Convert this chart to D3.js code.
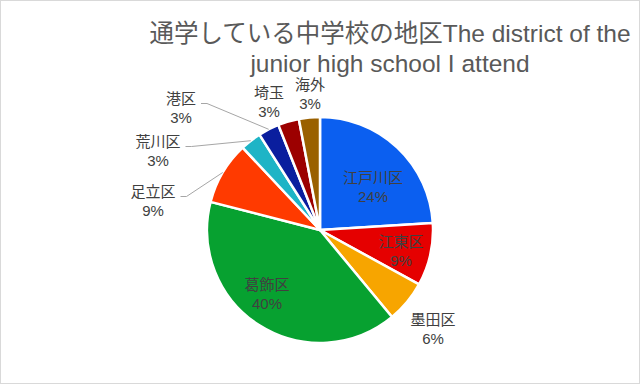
<!DOCTYPE html>
<html>
<head>
<meta charset="utf-8">
<script src="https://cdn.jsdelivr.net/npm/d3@7"></script>
<style>
  html, body { margin: 0; padding: 0; background: #fff; }
  svg { display: block; }
</style>
</head>
<body>
<script>
const width = 640;
const height = 384;

// data
const districts = ['江戸川区', '江東区', '墨田区', '葛飾区', '足立区', '荒川区', '港区', '埼玉', '海外'];
const shares = [24, 9, 6, 40, 9, 3, 3, 3, 3];
const colors = ['#0b5ff0', '#e50000', '#f7a500', '#07a130', '#ff3a00', '#1eb4c6', '#0a1e9e', '#9c0000', '#9a6000'];
const titleLines = ['通学している中学校の地区The district of the', 'junior high school I attend'];

// where each label block sits, relative to the pie centre
const labelAt = [[53, -43], [81, 21], [113, 99], [-53, 64], [-167, -29], [-162, -79], [-139, -122], [-51, -128], [-10, -136]];
const withLeader = [false, false, false, false, true, true, true, false, false];

const font = '"Liberation Sans", Arial, "Noto Sans CJK JP", sans-serif';
const cx = 320, cy = 230, r = 113;

const svg = d3.select('body')
  .append('svg')
  .attr('width', width)
  .attr('height', height);

svg.append('rect')
  .attr('x', 0.5).attr('y', 0.5)
  .attr('width', width - 1).attr('height', height - 1)
  .attr('fill', '#fff')
  .attr('stroke', '#d9d9d9');

// title
svg.append('g')
  .selectAll('text')
  .data(titleLines)
  .join('text')
  .attr('x', 390)
  .attr('y', (d, i) => 42 + i * 30)
  .attr('text-anchor', 'middle')
  .attr('font-family', font)
  .attr('font-size', 24.5)
  .attr('fill', '#595959')
  .text(d => d);

const pie = d3.pie().sort(null).value(d => d);
const arcs = pie(shares);
const arc = d3.arc().innerRadius(0).outerRadius(r);

const g = svg.append('g').attr('transform', `translate(${cx},${cy})`);

g.selectAll('path')
  .data(arcs)
  .join('path')
  .attr('d', arc)
  .attr('fill', (d, i) => colors[i])
  .attr('stroke', '#fff')
  .attr('stroke-width', 2.5)
  .attr('stroke-linejoin', 'round');

// leader lines
g.selectAll('polyline')
  .data(arcs.filter((d, i) => withLeader[i]))
  .join('polyline')
  .attr('points', d => {
    const [lx, ly] = labelAt[d.index];
    const half = districts[d.index].length * 7.5;
    const x0 = lx + half + 5, y0 = ly - 4.5;
    const mid = (d.startAngle + d.endAngle) / 2;
    const ex = Math.sin(mid) * r, ey = -Math.cos(mid) * r;
    return [[x0, y0], [x0 + 6, y0], [ex, ey]].map(p => p.join(',')).join(' ');
  })
  .attr('fill', 'none')
  .attr('stroke', '#a6a6a6')
  .attr('stroke-width', 1);

// labels
const labels = g.selectAll('text.lbl')
  .data(arcs)
  .join('text')
  .attr('class', 'lbl')
  .attr('text-anchor', 'middle')
  .attr('font-family', font)
  .attr('font-size', 15)
  .attr('fill', '#404040')
  .attr('transform', d => `translate(${labelAt[d.index][0]},${labelAt[d.index][1]})`);

labels.append('tspan')
  .attr('x', 0)
  .attr('y', -4)
  .text(d => districts[d.index]);

labels.append('tspan')
  .attr('x', 0)
  .attr('y', 15)
  .text(d => d.value + '%');
</script>
</body>
</html>
